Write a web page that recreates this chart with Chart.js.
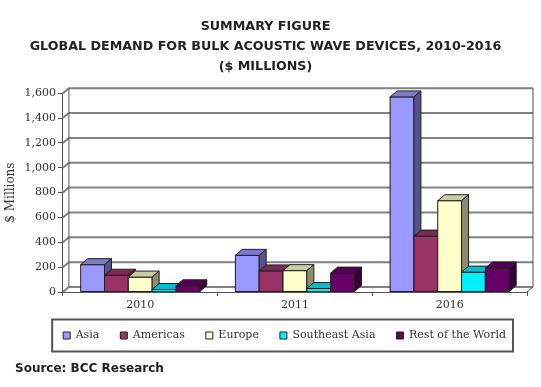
<!DOCTYPE html>
<html>
<head>
<meta charset="utf-8">
<script src="https://cdn.jsdelivr.net/npm/chart.js@4/dist/chart.umd.min.js"></script>
<style>
  html, body { margin: 0; padding: 0; background: #fff; }
  #wrap { position: relative; width: 541px; height: 387px; }
  #source { position: absolute; left: 15px; top: 361px; font: bold 12px "DejaVu Sans"; color: #222; }
</style>
</head>
<body>
<div id="wrap">
  <canvas id="chart" width="541" height="387"></canvas>
  <div id="source">Source: BCC Research</div>
</div>
<script>
// Data
const years = ['2010', '2011', '2016'];
const regions = ['Asia', 'Americas', 'Europe', 'Southeast Asia', 'Rest of the World'];
const asia = [220, 295, 1570];
const americas = [135, 170, 450];
const europe = [120, 172, 735];
const southeastAsia = [20, 28, 160];
const restOfWorld = [50, 152, 193];
const yTicks = [0, 200, 400, 600, 800, 1000, 1200, 1400, 1600];

const colors = ['#9999ff', '#993366', '#ffffcc', '#00f0ff', '#660066'];
const series = [asia, americas, europe, southeastAsia, restOfWorld];

// depth of the fake 3D look
const WX = 6, WY = -5;   // back wall offset
const BX = 7, BY = -6;   // bar depth

function shade(hex, f) {
  const n = parseInt(hex.slice(1), 16);
  const r = Math.round(((n >> 16) & 255) * f);
  const g = Math.round(((n >> 8) & 255) * f);
  const b = Math.round((n & 255) * f);
  return 'rgb(' + r + ',' + g + ',' + b + ')';
}

const depthPlugin = {
  id: 'depth',
  beforeDatasetsDraw(chart) {
    const ctx = chart.ctx, a = chart.chartArea, y = chart.scales.y;
    ctx.save();
    ctx.strokeStyle = '#808080';
    ctx.lineWidth = 2;
    yTicks.forEach(v => {
      const py = y.getPixelForValue(v);
      ctx.beginPath();
      ctx.moveTo(a.left, py);
      ctx.lineTo(a.left + WX, py + WY);
      ctx.lineTo(a.right + WX, py + WY);
      ctx.stroke();
    });
    ctx.lineWidth = 1;
    ctx.strokeStyle = '#555';
    const top = y.getPixelForValue(1600), bot = y.getPixelForValue(0);
    ctx.beginPath();
    ctx.moveTo(a.left + WX, top + WY); ctx.lineTo(a.left + WX, bot + WY);
    ctx.moveTo(a.right + WX, top + WY); ctx.lineTo(a.right + WX, bot + WY);
    ctx.lineTo(a.right, bot);
    ctx.stroke();
    ctx.restore();
  },
  afterDatasetsDraw(chart) {
    const ctx = chart.ctx;
    ctx.save();
    ctx.lineWidth = 1;
    ctx.strokeStyle = '#222';
    chart.data.datasets.forEach((ds, i) => {
      chart.getDatasetMeta(i).data.forEach(bar => {
        const p = bar.getProps(['x', 'y', 'base', 'width'], true);
        const l = p.x - p.width / 2, r = p.x + p.width / 2;
        ctx.fillStyle = colors[i];
        ctx.fillRect(l, p.y, p.width, p.base - p.y);
        ctx.strokeRect(l, p.y, p.width, p.base - p.y);
        ctx.beginPath();
        ctx.moveTo(l, p.y); ctx.lineTo(l + BX, p.y + BY);
        ctx.lineTo(r + BX, p.y + BY); ctx.lineTo(r, p.y); ctx.closePath();
        ctx.fillStyle = shade(colors[i], 0.8);
        ctx.fill(); ctx.stroke();
        ctx.beginPath();
        ctx.moveTo(r, p.y); ctx.lineTo(r + BX, p.y + BY);
        ctx.lineTo(r + BX, p.base + BY); ctx.lineTo(r, p.base); ctx.closePath();
        ctx.fillStyle = shade(colors[i], 0.55);
        ctx.fill(); ctx.stroke();
      });
    });
    ctx.restore();
  },
  afterDraw(chart) {
    const lg = chart.legend, ctx = chart.ctx;
    if (!lg || !lg.legendHitBoxes.length) return;
    const hb = lg.legendHitBoxes;
    const first = hb[0], last = hb[hb.length - 1];
    const cy = first.top + first.height / 2;
    ctx.save();
    ctx.strokeStyle = '#555';
    ctx.lineWidth = 2;
    ctx.strokeRect(first.left - 11, cy - 16, last.left + last.width + 7 - (first.left - 11), 32);
    ctx.restore();
  }
};

new Chart(document.getElementById('chart'), {
  type: 'bar',
  data: {
    labels: years,
    datasets: regions.map((name, i) => ({
      label: name,
      data: series[i],
      backgroundColor: colors[i],
      borderColor: '#222',
      borderWidth: 1,
      categoryPercentage: 0.77,
      barPercentage: 1
    }))
  },
  options: {
    responsive: false,
    animation: false,
    layout: { padding: { top: 0, left: 4, right: 14, bottom: 36 } },
    plugins: {
      tooltip: { enabled: false },
      title: {
        display: true,
        text: ['SUMMARY FIGURE', 'GLOBAL DEMAND FOR BULK ACOUSTIC WAVE DEVICES, 2010-2016', '($ MILLIONS)'],
        font: { family: 'DejaVu Sans', size: 12.7, weight: 'bold', lineHeight: 1.58 },
        color: '#222',
        padding: { top: 17, bottom: 16 }
      },
      legend: {
        position: 'bottom',
        align: 'end',
        labels: {
          boxWidth: 7,
          boxHeight: 7,
          padding: 21,
          color: '#333',
          font: { family: 'DejaVu Serif', size: 11 }
        }
      }
    },
    scales: {
      x: {
        // squeeze the axis box so the legend sits close, and don't clip labels to it
        afterFit: s => { s.height = 17; s._computeLabelArea = () => undefined; },
        grid: { display: true, drawOnChartArea: false, tickLength: 4, color: '#555', offset: true },
        border: { color: '#555' },
        ticks: { color: '#333', font: { family: 'DejaVu Serif', size: 11 }, padding: 3 }
      },
      y: {
        min: 0,
        max: 1600,
        grid: { display: true, drawOnChartArea: false, tickLength: 5, color: '#555' },
        border: { color: '#555' },
        ticks: {
          stepSize: 200,
          color: '#333',
          padding: 2,
          font: { family: 'DejaVu Serif', size: 11 },
          callback: v => v.toLocaleString('en-US')
        },
        title: {
          display: true,
          text: '$ Millions',
          color: '#333',
          font: { family: 'DejaVu Serif', size: 12 },
          padding: { top: 0, bottom: 4 }
        }
      }
    }
  },
  plugins: [depthPlugin]
});
</script>
</body>
</html>
